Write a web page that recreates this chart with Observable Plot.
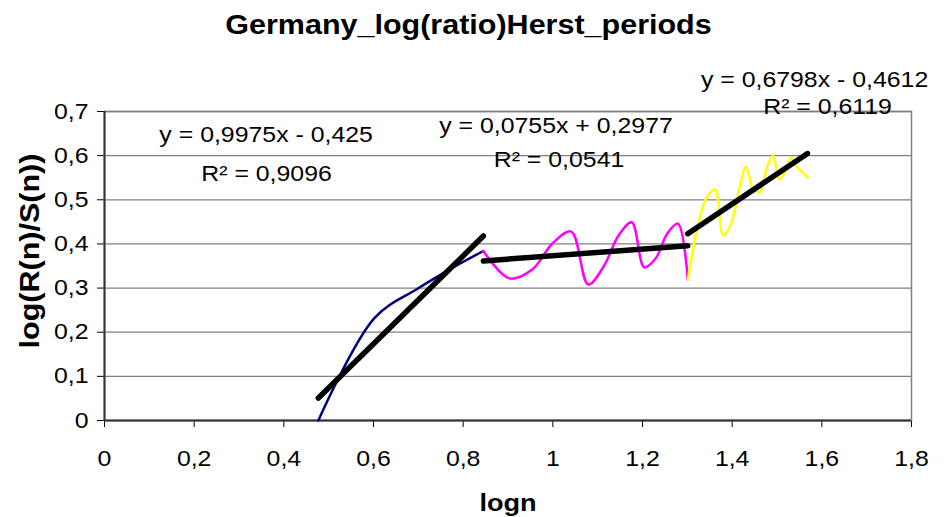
<!DOCTYPE html>
<html><head><meta charset="utf-8">
<script src="https://cdn.jsdelivr.net/npm/d3@7"></script>
<script src="https://cdn.jsdelivr.net/npm/@observablehq/plot@0.6"></script>
<style>
body{margin:0;background:#fff;}
svg{font-family:"Liberation Sans",Arial,sans-serif;}
</style>
</head><body><div id="chart"></div>
<script>
// Blue segment (n = 3..7)
const blueX = [0.477, 0.602, 0.699, 0.778, 0.845];
const blueY = [0.000, 0.232, 0.299, 0.347, 0.384];
// Magenta segment (n = 7..20)
const magX = [0.845, 0.903, 0.954, 1.000, 1.041, 1.079, 1.114, 1.146, 1.176, 1.204, 1.230, 1.255, 1.279, 1.301];
const magY = [0.384, 0.322, 0.342, 0.402, 0.428, 0.308, 0.350, 0.418, 0.449, 0.347, 0.368, 0.423, 0.446, 0.319];
// Yellow segment (n = 20..37)
const yelX = [1.301, 1.322, 1.342, 1.362, 1.380, 1.398, 1.415, 1.431, 1.447, 1.462, 1.477, 1.491, 1.505, 1.519, 1.531, 1.544, 1.556, 1.568];
const yelY = [0.319, 0.434, 0.503, 0.523, 0.419, 0.447, 0.521, 0.574, 0.525, 0.518, 0.572, 0.600, 0.546, 0.566, 0.595, 0.575, 0.563, 0.550];

// Linear trendlines (slope, intercept) and their x ranges
const trendSlope = [0.9975, 0.0755, 0.6798];
const trendIntercept = [-0.425, 0.2977, -0.4612];
const trendFrom = [0.477, 0.845, 1.301];
const trendTo = [0.845, 1.301, 1.568];

// Equation labels (positions in data units)
const eqText = ["y = 0,9975x - 0,425", "R² = 0,9096", "y = 0,0755x + 0,2977", "R² = 0,0541", "y = 0,6798x - 0,4612", "R² = 0,6119"];
const eqX = [0.3605, 0.3614, 1.0071, 1.0138, 1.5838, 1.6128];
const eqY = [0.6468, 0.5596, 0.6683, 0.5902, 0.7725, 0.7095];

const xTicks = [0, 0.2, 0.4, 0.6, 0.8, 1, 1.2, 1.4, 1.6, 1.8];
const yTicks = [0, 0.1, 0.2, 0.3, 0.4, 0.5, 0.6, 0.7];

const titleText = "Germany_log(ratio)Herst_periods";
const xLabel = "logn";
const yLabel = "log(R(n)/S(n))";

const toRows = (xs, ys) => xs.map((x, i) => ({x, y: ys[i]}));
const blue = toRows(blueX, blueY);
const mag = toRows(magX, magY);
const yel = toRows(yelX, yelY);
const trends = [];
trendSlope.forEach((m, i) => {
  [trendFrom[i], trendTo[i]].forEach(x => trends.push({seg: i, x, y: m * x + trendIntercept[i]}));
});
const eqs = eqText.map((t, i) => ({t, x: eqX[i], y: eqY[i]}));
const fmt = d => String(+(+d).toFixed(1)).replace(".", ",");

const chart = Plot.plot({
  width: 951, height: 517,
  marginTop: 111, marginBottom: 97, marginLeft: 104, marginRight: 40,
  style: {fontFamily: "'Liberation Sans', Arial, sans-serif", fontSize: "22px", color: "#000", background: "#fff", overflow: "visible"},
  x: {domain: [0, 1.8], ticks: xTicks, tickFormat: fmt, tickSize: 7, tickPadding: 23, label: null},
  y: {domain: [0, 0.7], ticks: yTicks, tickFormat: fmt, tickSize: 7, tickPadding: 9, label: null},
  marks: [
    Plot.ruleY(yTicks, {stroke: "#808080", strokeWidth: 1.3}),
    Plot.frame({stroke: "#808080", strokeWidth: 1.5}),
    Plot.ruleX([0], {stroke: "#333", strokeWidth: 2}),
    Plot.ruleY([0], {stroke: "#333", strokeWidth: 2}),
    Plot.line(blue, {x: "x", y: "y", stroke: "#000080", strokeWidth: 2.5, curve: "catmull-rom"}),
    Plot.line(mag, {x: "x", y: "y", stroke: "#FF00FF", strokeWidth: 2.5, curve: "catmull-rom"}),
    Plot.line(yel, {x: "x", y: "y", stroke: "#FFFF00", strokeWidth: 2.5, curve: "catmull-rom"}),
    Plot.line(trends, {x: "x", y: "y", z: "seg", stroke: "#000", strokeWidth: 5.5, strokeLinecap: "round"}),
    Plot.text(eqs, {x: "x", y: "y", text: "t", fontSize: 22, lineAnchor: "middle", fill: "#000"}),
    Plot.text([titleText], {frameAnchor: "top", dx: -39.5, dy: -86, fontSize: 27, fontWeight: "bold", lineAnchor: "middle"}),
    Plot.text([yLabel], {frameAnchor: "left", textAnchor: "middle", dx: -74, dy: -15, rotate: -90, fontSize: 27, fontWeight: "bold", lineAnchor: "middle"}),
    Plot.text([xLabel], {frameAnchor: "bottom", dy: 83, fontSize: 24, fontWeight: "bold", lineAnchor: "middle"})
  ]
});
document.getElementById("chart").appendChild(chart);

// Widen glyphs along the text direction like the reference rendering
chart.querySelectorAll("text").forEach(el => {
  const x = parseFloat(el.getAttribute("x")) || 0;
  const t = el.getAttribute("transform") || "";
  el.setAttribute("transform", `${t} translate(${x},0) scale(1.13,1) translate(${-x},0)`);
});
</script>
</body></html>
